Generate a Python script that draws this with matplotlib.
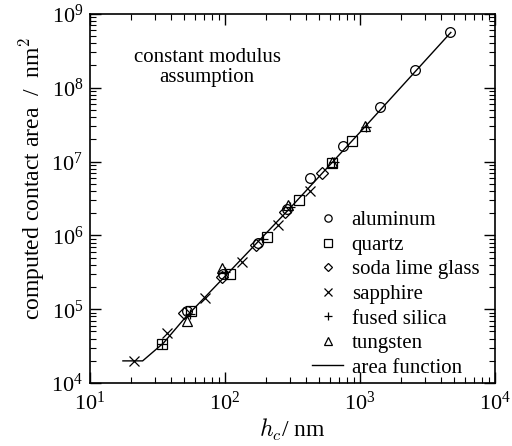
from matplotlib import pyplot as plt

plt.rcParams['font.family'] = ['Liberation Serif', 'DejaVu Serif']
plt.rcParams['mathtext.fontset'] = 'cm'

# contact depth (nm) and computed contact area (nm^2) for each material
al_h = [52, 97, 175, 288, 427, 748, 1400, 2550, 4640]
al_a = [9.5e4, 3.0e5, 8.0e5, 2.3e6, 6.0e6, 1.6e7, 5.4e7, 1.75e8, 5.6e8]

qz_h = [34, 56, 108, 204, 350, 620, 870]
qz_a = [3.4e4, 9.5e4, 3.0e5, 9.5e5, 3.0e6, 9.5e6, 1.9e7]

slg_h = [50, 95, 170, 280, 523]
slg_a = [9.0e4, 2.7e5, 7.5e5, 2.1e6, 7.0e6]

sap_h = [21, 37, 71, 134, 247, 427]
sap_a = [2.0e4, 4.8e4, 1.4e5, 4.4e5, 1.4e6, 4.0e6]

fs_h = [34, 55, 100, 190, 300, 640, 1100]
fs_a = [3.4e4, 8.5e4, 3.2e5, 8.8e5, 2.4e6, 1.0e7, 2.9e7]

w_h = [52, 95, 290, 620, 1090]
w_a = [7.0e4, 3.6e5, 2.6e6, 9.8e6, 3.0e7]

# area function nodes
af_h = [17.5, 24.5, 35, 50, 100, 300, 1000, 4700]
af_a = [2.0e4, 2.0e4, 3.5e4, 7.5e4, 2.8e5, 2.3e6, 2.5e7, 5.6e8]

fig = plt.figure(figsize=(5.12, 4.46), dpi=100)
ax = fig.add_axes([0.176, 0.141, 0.791, 0.828])

mk = dict(linestyle='none', color='black', markerfacecolor='none', markersize=7, markeredgewidth=0.9)
ax.plot(al_h, al_a, marker='o', label='aluminum', **mk)
ax.plot(qz_h, qz_a, marker='s', label='quartz', **mk)
ax.plot(slg_h, slg_a, marker='D', label='soda lime glass', **dict(mk, markersize=6))
ax.plot(sap_h, sap_a, marker='x', label='sapphire', **mk)
ax.plot(fs_h, fs_a, marker='+', label='fused silica', **mk)
ax.plot(w_h, w_a, marker='^', label='tungsten', **mk)
ax.plot(af_h, af_a, color='black', linewidth=1.0, label='area function')

ax.set_xscale('log')
ax.set_yscale('log')
ax.set_xlim(10, 1e4)
ax.set_ylim(1e4, 1e9)

ax.tick_params(which='both', direction='in', top=True, right=True, labelsize=16)
ax.tick_params(which='major', length=8, width=1)
ax.tick_params(axis='x', which='major', pad=6)
ax.tick_params(axis='y', which='major', pad=5)
ax.tick_params(which='minor', length=4, width=0.8)
for s in ax.spines.values():
    s.set_linewidth(1.2)

ax.set_xlabel('$h_c$/ nm', fontsize=17, labelpad=2)
ax.set_ylabel('computed contact area  /  nm$^2$', fontsize=17)
ax.yaxis.set_label_coords(-0.106, 0.555)

ax.text(0.289, 0.855, 'constant modulus\nassumption', transform=ax.transAxes,
        ha='center', va='center', fontsize=15, linespacing=1.05)

ax.legend(loc='upper left', bbox_to_anchor=(0.548, 0.467), frameon=False, fontsize=15,
          handlelength=1.5, handletextpad=0.4, labelspacing=0.24, borderpad=0,
          borderaxespad=0, markerscale=0.75)

plt.savefig('out.png', dpi=100)
